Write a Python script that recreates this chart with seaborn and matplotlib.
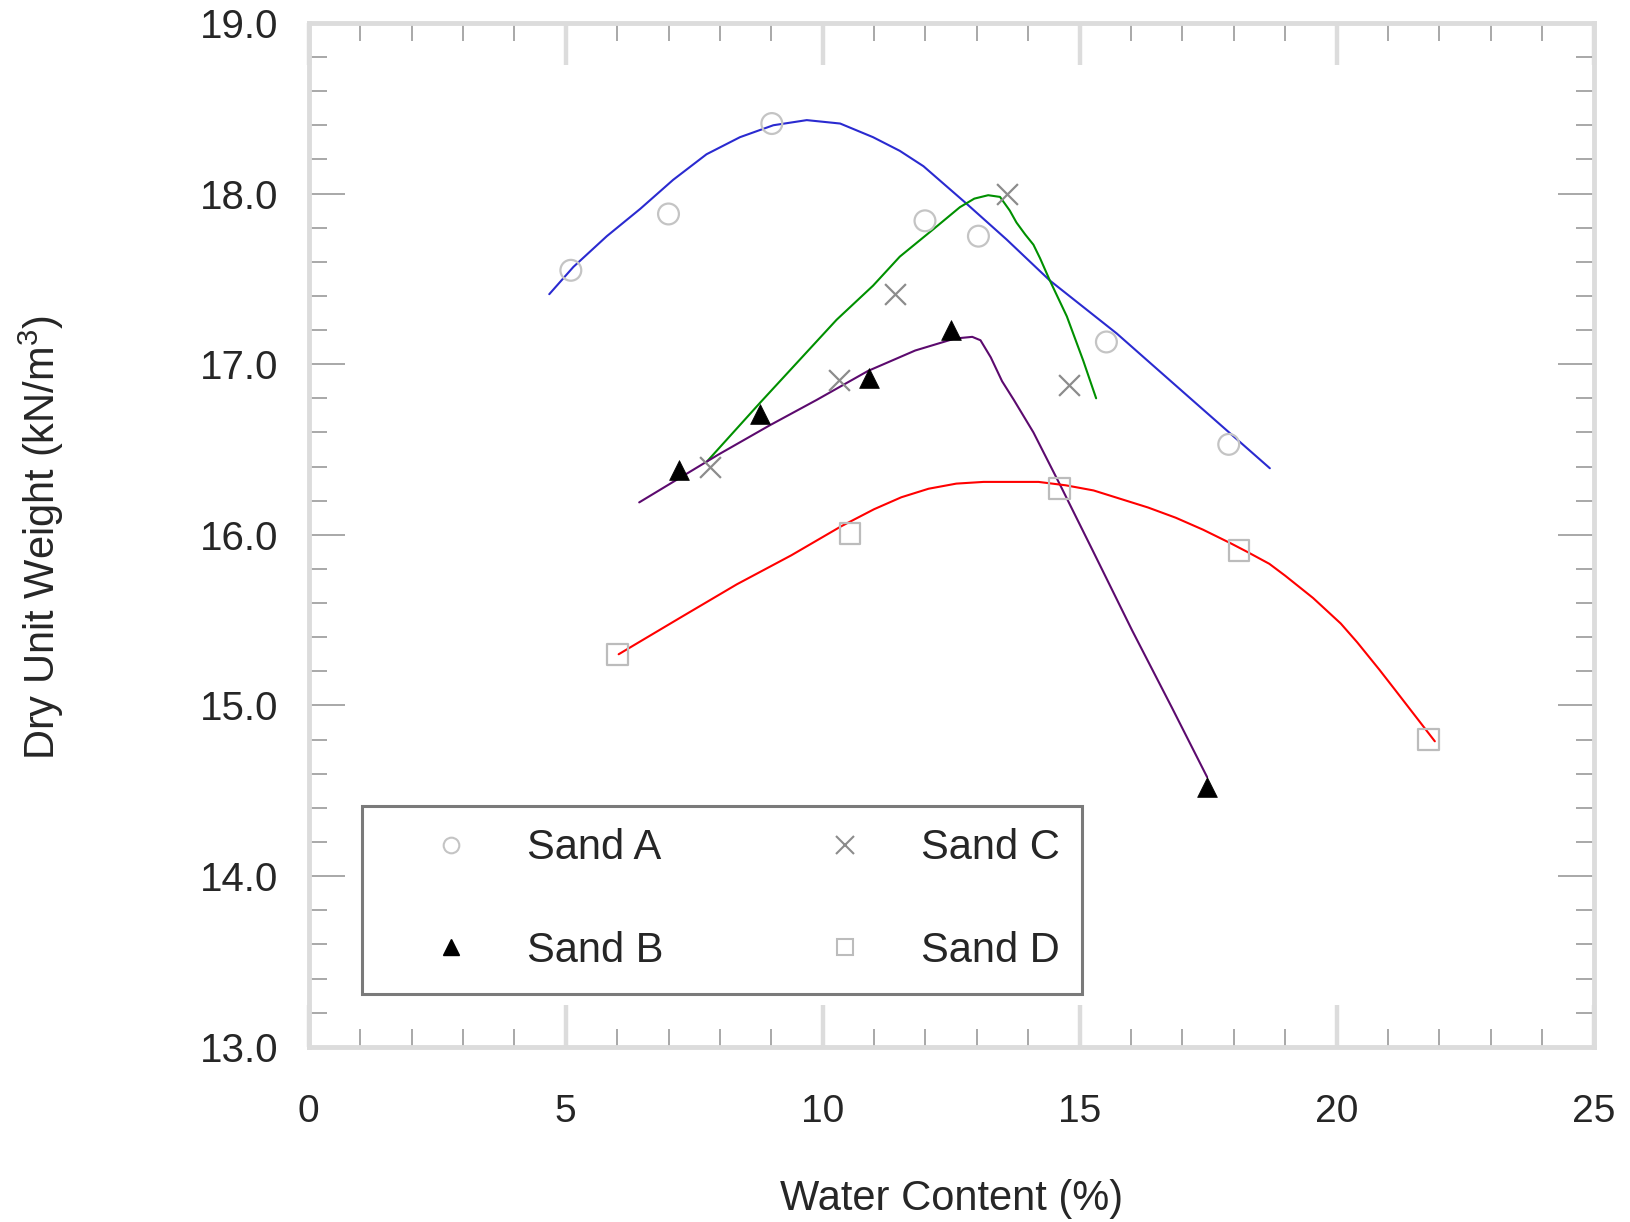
import numpy as np
import pandas as pd
import matplotlib
matplotlib.use("Agg")
import matplotlib.pyplot as plt
from matplotlib.lines import Line2D
from matplotlib.ticker import MultipleLocator, FormatStrFormatter
import seaborn as sns

# ---- compaction test points (water content %, dry unit weight kN/m3) ----
sand_a_w = [5.10, 7.00, 9.01, 11.99, 13.03, 15.52, 17.90]
sand_a_g = [17.55, 17.88, 18.41, 17.84, 17.75, 17.13, 16.53]

sand_b_w = [7.20, 8.78, 10.90, 12.50, 17.48]
sand_b_g = [16.38, 16.71, 16.92, 17.20, 14.52]

sand_c_w = [7.81, 10.32, 11.41, 13.59, 14.79]
sand_c_g = [16.40, 16.91, 17.41, 18.00, 16.88]

sand_d_w = [6.01, 10.53, 14.60, 18.10, 21.78]
sand_d_g = [15.30, 16.01, 16.27, 15.91, 14.80]

# ---- fitted compaction curves ----
curve_a_w = [4.68, 5.15, 5.80, 6.45, 7.09, 7.74, 8.39, 9.04, 9.69, 10.34, 10.98,
             11.50, 11.96, 12.80, 13.58, 14.42, 15.72, 17.34, 18.70]
curve_a_g = [17.41, 17.57, 17.75, 17.91, 18.08, 18.23, 18.33, 18.40, 18.43, 18.41, 18.33,
             18.25, 18.16, 17.94, 17.73, 17.49, 17.18, 16.75, 16.39]

curve_b_w = [6.43, 7.20, 7.97, 8.96, 9.88, 10.88, 11.80, 12.57, 12.91, 13.07, 13.27,
             13.49, 13.72, 14.10, 14.64, 15.25, 16.02, 16.79, 17.48]
curve_b_g = [16.19, 16.33, 16.47, 16.64, 16.79, 16.96, 17.08, 17.15, 17.16, 17.14, 17.04,
             16.90, 16.79, 16.60, 16.28, 15.91, 15.44, 14.99, 14.58]

curve_c_w = [7.75, 8.77, 10.27, 10.98, 11.50, 12.15, 12.67, 12.95, 13.22, 13.45, 13.64,
             13.77, 13.94, 14.10, 14.23, 14.42, 14.75, 15.07, 15.32]
curve_c_g = [16.43, 16.77, 17.26, 17.46, 17.63, 17.79, 17.92, 17.97, 17.99, 17.98, 17.90,
             17.83, 17.76, 17.70, 17.62, 17.49, 17.28, 17.02, 16.80]

curve_d_w = [6.03, 7.26, 8.33, 9.39, 10.36, 11.00, 11.53, 12.06, 12.60, 13.13, 13.45,
             14.20, 14.73, 15.27, 15.80, 16.33, 16.87, 17.40, 17.94, 18.26, 18.69,
             19.00, 19.54, 20.08, 20.40, 20.83, 21.14, 21.91]
curve_d_g = [15.30, 15.52, 15.71, 15.88, 16.05, 16.15, 16.22, 16.27, 16.30, 16.31, 16.31,
             16.31, 16.29, 16.26, 16.21, 16.16, 16.10, 16.03, 15.95, 15.90, 15.83,
             15.76, 15.63, 15.48, 15.37, 15.21, 15.09, 14.79]

labels = ["Sand A", "Sand B", "Sand C", "Sand D"]

sns.set_style("white")
plt.rcParams["font.family"] = ["Liberation Sans", "DejaVu Sans"]
plt.rcParams["mathtext.fontset"] = "custom"
plt.rcParams["mathtext.rm"] = "Liberation Sans"
plt.rcParams["mathtext.it"] = "Liberation Sans"

fig = plt.figure(figsize=(16.3, 12.22), dpi=100)
ax = fig.add_axes([0.1894, 0.1434, 0.7883, 0.8379])

# curves
curve_style = dict(ax=ax, sort=False, linewidth=1.5, legend=False, zorder=2)
sns.lineplot(x=curve_a_w, y=curve_a_g, color="#2a2ad0", **curve_style)
sns.lineplot(x=curve_c_w, y=curve_c_g, color="#009000", **curve_style)
sns.lineplot(x=curve_b_w, y=curve_b_g, color="#5c0a6e", **curve_style)
sns.lineplot(x=curve_d_w, y=curve_d_g, color="#ff0000", **curve_style)

# test points
ms = 15
sns.scatterplot(x=sand_a_w, y=sand_a_g, ax=ax, marker="o", s=ms**2,
                facecolor="none", edgecolor="#c4c4c4", linewidth=1.6, zorder=3)
sns.scatterplot(x=sand_b_w, y=sand_b_g, ax=ax, marker="^", s=(ms*0.95)**2,
                color="black", edgecolor="black", linewidth=0.5, zorder=3)
sns.scatterplot(x=sand_c_w, y=sand_c_g, ax=ax, marker="x", s=ms**2,
                color="#8c8c8c", linewidth=1.6, zorder=3)
sns.scatterplot(x=sand_d_w, y=sand_d_g, ax=ax, marker="s", s=ms**2,
                facecolor="none", edgecolor="#bcbcbc", linewidth=1.6, zorder=3)

ax.set_xlim(0, 25)
ax.set_ylim(13.0, 19.0)

# ticks on all four sides, pointing inward
ax.xaxis.set_major_locator(MultipleLocator(5))
ax.xaxis.set_minor_locator(MultipleLocator(1))
ax.yaxis.set_major_locator(MultipleLocator(1.0))
ax.yaxis.set_minor_locator(MultipleLocator(0.2))
ax.yaxis.set_major_formatter(FormatStrFormatter("%.1f"))
ax.tick_params(which="both", direction="in", top=True, right=True,
               bottom=True, left=True)
ax.tick_params(axis="x", which="major", length=30, width=3.2, color="#dcdcdc",
               labelsize=28, pad=34)
ax.tick_params(axis="x", which="minor", length=13, width=1.4, color="#a8a8a8")
ax.tick_params(axis="y", which="major", length=26, width=1.4, color="#a8a8a8",
               labelsize=29, pad=22)
ax.tick_params(axis="y", which="minor", length=13, width=1.4, color="#a8a8a8")

for sp in ax.spines.values():
    sp.set_color("#dcdcdc")
    sp.set_linewidth(3.5)

ax.set_xlabel("Water Content (%)", fontsize=30)
ax.set_ylabel("Dry Unit Weight (kN/m$^3$)", fontsize=30)
ax.xaxis.set_label_coords(0.5, -0.149)
ax.xaxis.label.set_va("center")
ax.yaxis.set_label_coords(-0.208, 0.497)
ax.yaxis.label.set_va("center")

# legend
handles = [
    Line2D([], [], linestyle="none", marker="o", markersize=ms*0.75,
           markerfacecolor="none", markeredgecolor="#c4c4c4", markeredgewidth=1.5),
    Line2D([], [], linestyle="none", marker="^", markersize=ms*0.8,
           markerfacecolor="black", markeredgecolor="black"),
    Line2D([], [], linestyle="none", marker="x", markersize=ms*0.85,
           markeredgecolor="#8c8c8c", markeredgewidth=1.5),
    Line2D([], [], linestyle="none", marker="s", markersize=ms*0.75,
           markerfacecolor="none", markeredgecolor="#bcbcbc", markeredgewidth=1.5),
]
leg = ax.legend(handles, labels, ncol=2, loc="upper left",
                bbox_to_anchor=(0.0412, 0.2356), borderaxespad=0,
                fontsize=30, frameon=True, fancybox=False, framealpha=1,
                edgecolor="#7a7a7a", handlelength=3.2, handletextpad=0.22,
                columnspacing=2.75, labelspacing=1.5, borderpad=0.55, numpoints=1)
leg.get_frame().set_linewidth(2.2)

fig.savefig("out.png", dpi=100, facecolor="white")
